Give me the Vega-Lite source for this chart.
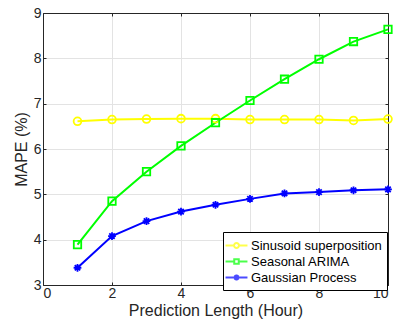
{
  "$schema": "https://vega.github.io/schema/vega-lite/v6.json",
  "width": 345,
  "height": 272,
  "autosize": "none",
  "padding": {"left": 43, "top": 13, "right": 7, "bottom": 36},
  "background": "white",
  "config": {
    "font": "Liberation Sans",
    "view": {"stroke": null},
    "axis": {
      "labelFont": "Liberation Sans",
      "titleFont": "Liberation Sans",
      "labelFontSize": 14,
      "titleFontSize": 16,
      "titleFontWeight": "normal",
      "labelColor": "#262626",
      "titleColor": "#262626",
      "domainColor": "#262626",
      "tickColor": "#262626",
      "gridColor": "#e3e3e3",
      "gridWidth": 1
    },
    "legend": {
      "orient": "none",
      "legendX": 180,
      "legendY": 219,
      "direction": "vertical",
      "padding": 5,
      "rowPadding": 0,
      "strokeColor": "#000000",
      "fillColor": "#ffffff",
      "labelFont": "Liberation Sans",
      "labelFontSize": 13,
      "labelColor": "#000000",
      "labelOffset": 6,
      "symbolSize": 200,
      "symbolStrokeWidth": 2,
      "labelLimit": 300
    }
  },
  "data": {
    "values": [
      {"series": "Sinusoid superposition", "hour": 1, "mape": 6.61},
      {"series": "Sinusoid superposition", "hour": 2, "mape": 6.65},
      {"series": "Sinusoid superposition", "hour": 3, "mape": 6.66},
      {"series": "Sinusoid superposition", "hour": 4, "mape": 6.67},
      {"series": "Sinusoid superposition", "hour": 5, "mape": 6.67},
      {"series": "Sinusoid superposition", "hour": 6, "mape": 6.65},
      {"series": "Sinusoid superposition", "hour": 7, "mape": 6.65},
      {"series": "Sinusoid superposition", "hour": 8, "mape": 6.65},
      {"series": "Sinusoid superposition", "hour": 9, "mape": 6.63},
      {"series": "Sinusoid superposition", "hour": 10, "mape": 6.66},
      {"series": "Seasonal ARIMA", "hour": 1, "mape": 3.89},
      {"series": "Seasonal ARIMA", "hour": 2, "mape": 4.85},
      {"series": "Seasonal ARIMA", "hour": 3, "mape": 5.5},
      {"series": "Seasonal ARIMA", "hour": 4, "mape": 6.07},
      {"series": "Seasonal ARIMA", "hour": 5, "mape": 6.58},
      {"series": "Seasonal ARIMA", "hour": 6, "mape": 7.07},
      {"series": "Seasonal ARIMA", "hour": 7, "mape": 7.54},
      {"series": "Seasonal ARIMA", "hour": 8, "mape": 7.98},
      {"series": "Seasonal ARIMA", "hour": 9, "mape": 8.37},
      {"series": "Seasonal ARIMA", "hour": 10, "mape": 8.64},
      {"series": "Gaussian Process", "hour": 1, "mape": 3.38},
      {"series": "Gaussian Process", "hour": 2, "mape": 4.08},
      {"series": "Gaussian Process", "hour": 3, "mape": 4.41},
      {"series": "Gaussian Process", "hour": 4, "mape": 4.62},
      {"series": "Gaussian Process", "hour": 5, "mape": 4.77},
      {"series": "Gaussian Process", "hour": 6, "mape": 4.9},
      {"series": "Gaussian Process", "hour": 7, "mape": 5.02},
      {"series": "Gaussian Process", "hour": 8, "mape": 5.05},
      {"series": "Gaussian Process", "hour": 9, "mape": 5.09},
      {"series": "Gaussian Process", "hour": 10, "mape": 5.11}
    ]
  },
  "layer": [
    {
      "transform": [{"filter": "datum.series === 'Sinusoid superposition'"}],
      "mark": {"type": "line", "strokeWidth": 2, "color": "#ffff00", "clip": false},
      "encoding": {
        "x": {
          "field": "hour", "type": "quantitative",
          "scale": {"domain": [0, 10], "nice": false, "zero": false},
          "axis": {"orient": "bottom", "values": [0, 2, 4, 6, 8, 10], "grid": true, "tickSize": -3, "labelPadding": 4, "title": "Prediction Length (Hour)", "titlePadding": 2}
        },
        "y": {
          "field": "mape", "type": "quantitative",
          "scale": {"domain": [3, 9], "nice": false, "zero": false},
          "axis": {"orient": "left", "values": [3, 4, 5, 6, 7, 8, 9], "grid": true, "tickSize": -3, "labelPadding": 5, "title": "MAPE (%)", "titlePadding": 4}
        }
      }
    },
    {
      "transform": [{"filter": "datum.series === 'Seasonal ARIMA'"}],
      "mark": {"type": "line", "strokeWidth": 2, "color": "#00ff00", "clip": false},
      "encoding": {
        "x": {
          "field": "hour", "type": "quantitative",
          "axis": {"orient": "top", "values": [0, 2, 4, 6, 8, 10], "grid": false, "labels": false, "tickSize": -3, "title": null}
        },
        "y": {
          "field": "mape", "type": "quantitative",
          "axis": {"orient": "right", "values": [3, 4, 5, 6, 7, 8, 9], "grid": false, "labels": false, "tickSize": -3, "title": null}
        }
      }
    },
    {
      "transform": [{"filter": "datum.series === 'Gaussian Process'"}],
      "mark": {"type": "line", "strokeWidth": 2, "color": "#0000ff", "clip": false},
      "encoding": {
        "x": {"field": "hour", "type": "quantitative", "axis": null},
        "y": {"field": "mape", "type": "quantitative", "axis": null}
      }
    },
    {
      "transform": [{"filter": "datum.series === 'Sinusoid superposition'"}],
      "mark": {"type": "point", "shape": "circle", "filled": false, "color": "#ffff00", "strokeWidth": 1.8, "size": 60, "opacity": 1, "clip": false},
      "encoding": {
        "x": {"field": "hour", "type": "quantitative", "axis": null},
        "y": {"field": "mape", "type": "quantitative", "axis": null}
      }
    },
    {
      "transform": [{"filter": "datum.series === 'Seasonal ARIMA'"}],
      "mark": {"type": "point", "shape": "square", "filled": false, "color": "#00ff00", "strokeWidth": 1.8, "size": 55, "opacity": 1, "clip": false},
      "encoding": {
        "x": {"field": "hour", "type": "quantitative", "axis": null},
        "y": {"field": "mape", "type": "quantitative", "axis": null}
      }
    },
    {
      "transform": [{"filter": "datum.series === 'Gaussian Process'"}],
      "mark": {"type": "point", "shape": "M-1,0L1,0M0,-1L0,1M-0.7,-0.7L0.7,0.7M-0.7,0.7L0.7,-0.7", "filled": false, "color": "#0000ff", "strokeWidth": 1.8, "size": 60, "opacity": 1, "clip": false},
      "encoding": {
        "x": {"field": "hour", "type": "quantitative", "axis": null},
        "y": {"field": "mape", "type": "quantitative", "axis": null}
      }
    },
    {
      "transform": [{"filter": "datum.hour > 100"}],
      "mark": {"type": "point", "filled": false, "strokeWidth": 2},
      "encoding": {
        "stroke": {
          "field": "series", "type": "nominal",
          "scale": {"domain": ["Sinusoid superposition", "Seasonal ARIMA", "Gaussian Process"], "range": ["#ffff00", "#00ff00", "#0000ff"]},
          "legend": {"title": null}
        },
        "shape": {
          "field": "series", "type": "nominal",
          "scale": {"domain": ["Sinusoid superposition", "Seasonal ARIMA", "Gaussian Process"], "range": [
            "M-1.55,0L-0.35,0M0.35,0L1.55,0M0.35,0A0.35,0.35 0 1,1 -0.35,0A0.35,0.35 0 1,1 0.35,0",
            "M-1.55,0L-0.32,0M0.32,0L1.55,0M-0.32,-0.32L0.32,-0.32L0.32,0.32L-0.32,0.32Z",
            "M-1.55,0L1.55,0M0,-0.42L0,0.42M-0.3,-0.3L0.3,0.3M-0.3,0.3L0.3,-0.3"
          ]},
          "legend": {"title": null}
        }
      }
    }
  ],
  "resolve": {
    "axis": {"x": "independent", "y": "independent"}
  }
}
